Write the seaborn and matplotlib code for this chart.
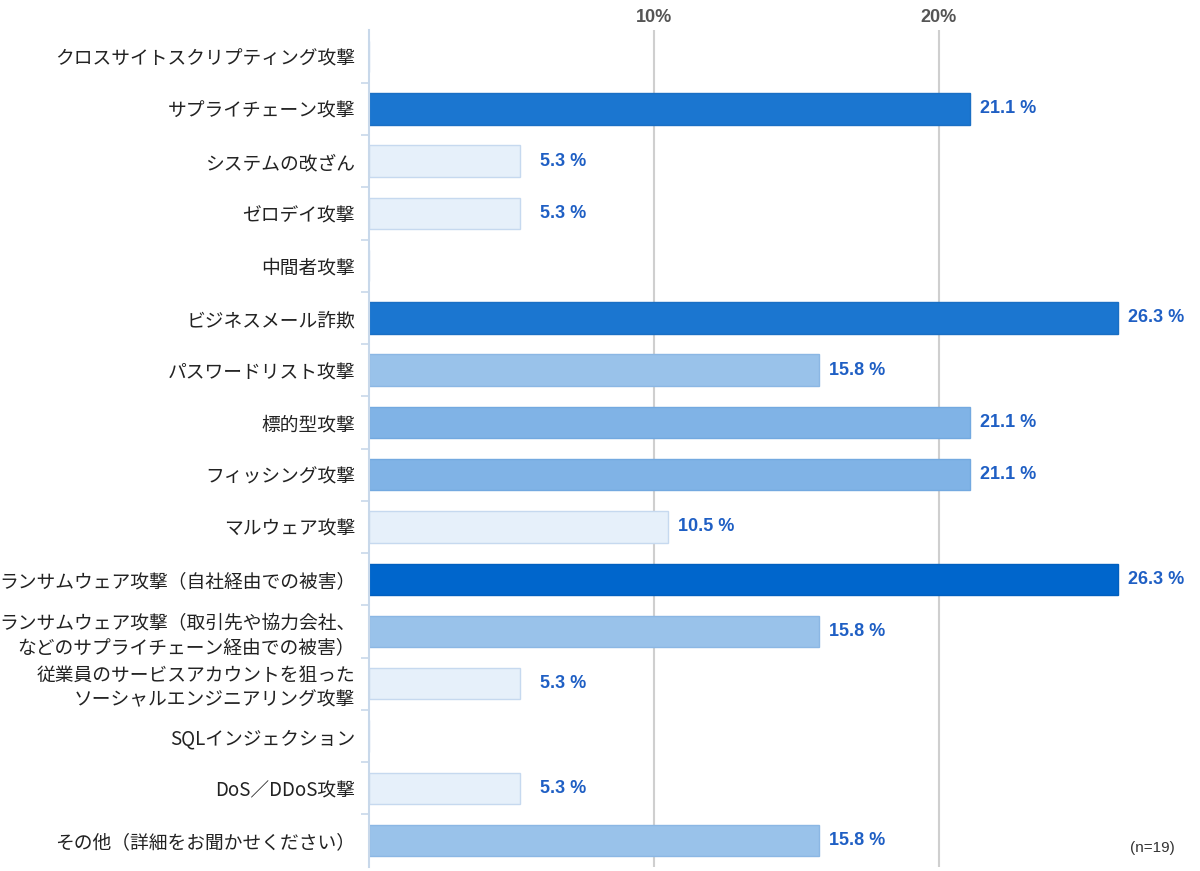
import matplotlib.pyplot as plt
import matplotlib.ticker as mticker
import pandas as pd
import seaborn as sns

# Data
categories = [
    'クロスサイトスクリプティング攻撃',
    'サプライチェーン攻撃',
    'システムの改ざん',
    'ゼロデイ攻撃',
    '中間者攻撃',
    'ビジネスメール詐欺',
    'パスワードリスト攻撃',
    '標的型攻撃',
    'フィッシング攻撃',
    'マルウェア攻撃',
    'ランサムウェア攻撃（自社経由での被害）',
    'ランサムウェア攻撃（取引先や協力会社、\nなどのサプライチェーン経由での被害）',
    '従業員のサービスアカウントを狙った\nソーシャルエンジニアリング攻撃',
    'SQLインジェクション',
    'DoS／DDoS攻撃',
    'その他（詳細をお聞かせください）',
]
percent = [0, 21.1, 5.3, 5.3, 0, 26.3, 15.8, 21.1, 21.1, 10.5, 26.3, 15.8, 5.3, 0, 5.3, 15.8]
sample_note = '(n=19)'

# Bar colours as in the reference
bar_colors = ['#e6f0fa', '#1b76d0', '#e6f0fa', '#e6f0fa', '#e6f0fa', '#1b76d0', '#99c2ea', '#80b3e6',
              '#80b3e6', '#e6f0fa', '#0066cc', '#99c2ea', '#e6f0fa', '#e6f0fa', '#e6f0fa', '#99c2ea']
edge_colors = ['#c6d9ef', '#1a6fc4', '#c6d9ef', '#c6d9ef', '#c6d9ef', '#1a6fc4', '#8bb7e4', '#73a9e0',
               '#73a9e0', '#c6d9ef', '#005fbf', '#8bb7e4', '#c6d9ef', '#c6d9ef', '#c6d9ef', '#8bb7e4']

df = pd.DataFrame({'category': categories, 'percent': percent})

sns.set_theme(style='white')
plt.rcParams['font.family'] = ['Noto Sans CJK JP', 'DejaVu Sans']

fig = plt.figure(figsize=(12, 8.71), dpi=100)
ax = fig.add_axes([0.3075, 0.005, 0.693, 0.96])

sns.barplot(data=df, y='category', x='percent', hue='category', palette=bar_colors,
            orient='h', width=0.6, legend=False, ax=ax, saturation=1)

for patch, ec in zip(ax.patches, edge_colors):
    patch.set_edgecolor(ec)
    patch.set_linewidth(1.0)

# Value annotations (right-aligned a fixed distance past the bar end)
for i, v in enumerate(percent):
    if v > 0:
        ax.annotate(f'{v} %', xy=(v, i), xytext=(48, 0), textcoords='offset points',
                    va='center', ha='right', fontsize=13, fontweight='bold',
                    color='#1f5fc4', family=['Liberation Sans', 'DejaVu Sans'])

ax.set_xlim(0, 29.2)
ax.set_ylim(len(categories) - 0.5, -0.5)

# Top percent axis
ax.xaxis.tick_top()
ax.set_xticks([10, 20])
ax.set_xticklabels(['10%', '20%'], fontsize=13, fontweight='bold', color='#555555',
                   family=['Liberation Sans', 'DejaVu Sans'])
ax.tick_params(axis='x', length=0, pad=3)
ax.grid(axis='x', color='#cfcfcf', linewidth=1.5)
ax.set_axisbelow(True)
ax.set_xlabel('')
ax.set_ylabel('')

# Category labels and small separators on the left axis
ax.tick_params(axis='y', which='major', length=0, pad=10, labelsize=13.5, labelcolor='#222222')
ax.yaxis.set_minor_locator(mticker.FixedLocator([k + 0.5 for k in range(len(categories) - 1)]))
ax.tick_params(axis='y', which='minor', length=6, width=1.2, color='#c8d8ea', left=True)

for side in ['top', 'right', 'bottom']:
    ax.spines[side].set_visible(False)
ax.spines['left'].set_color('#c8d8ea')
ax.spines['left'].set_linewidth(1.5)

fig.text(0.942, 0.026, sample_note, fontsize=11, color='#333333', ha='left', va='center',
         family=['Liberation Sans', 'DejaVu Sans'])

plt.savefig('out.png', dpi=100)
